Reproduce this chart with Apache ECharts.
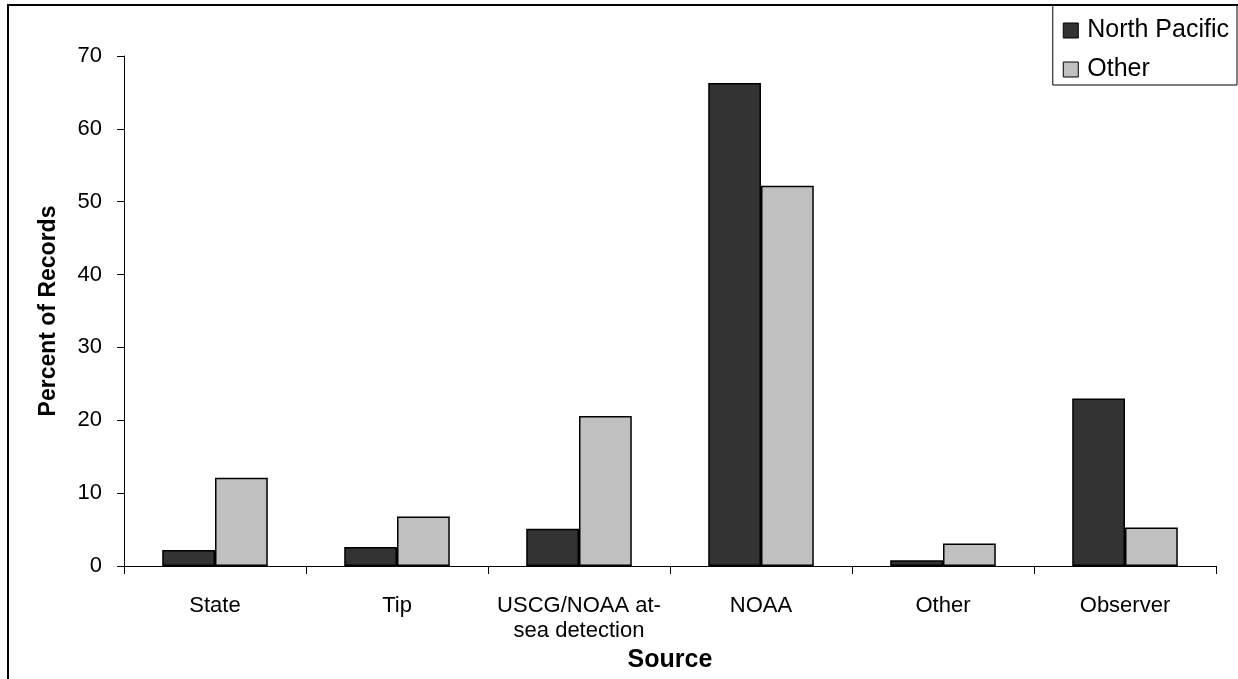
<!DOCTYPE html>
<html><head><meta charset="utf-8">
<script src="https://cdn.jsdelivr.net/npm/echarts@6/dist/echarts.min.js"></script>
<style>html,body{margin:0;padding:0;background:#fff}#c{width:1238px;height:679px}</style>
</head><body><div id="c"></div>
<script>
const categories = ['State', 'Tip', 'USCG/NOAA at-\nsea detection', 'NOAA', 'Other', 'Observer'];
const northPacific = [2.2, 2.6, 5.1, 66.3, 0.8, 23.0];
const other = [12.1, 6.8, 20.6, 52.2, 3.1, 5.3];
const yTicks = [0, 10, 20, 30, 40, 50, 60, 70];

const FONT = '"Liberation Sans", Arial, sans-serif';
const chart = echarts.init(document.getElementById('c'), null, {renderer: 'canvas'});
chart.setOption({
  animation: false,
  textStyle: {fontFamily: FONT, color: '#000'},
  graphic: [
    {type: 'polyline', shape: {points: [[8, 679], [8, 5], [1238, 5]]}, style: {fill: 'none', stroke: '#000', lineWidth: 2}, silent: true, z: 10}
  ],
  legend: {
    orient: 'vertical', right: 1, top: 5,
    borderColor: '#000', borderWidth: 1, borderRadius: 0,
    padding: [13, 8, 3, 10],
    itemWidth: 15, itemHeight: 15, itemGap: 14,
    icon: 'rect',
    textStyle: {fontFamily: FONT, fontSize: 25, lineHeight: 24, color: '#000', padding: [0, 0, 0, 4]},
    data: [
      {name: 'North Pacific', itemStyle: {color: '#333333', borderColor: '#000', borderWidth: 1}},
      {name: 'Other', itemStyle: {color: '#c0c0c0', borderColor: '#000', borderWidth: 1}}
    ]
  },
  grid: {left: 124, right: 22, top: 56, bottom: 113, containLabel: false, outerBoundsMode: 'none'},
  xAxis: {
    type: 'category', data: categories,
    name: 'Source', nameLocation: 'middle', nameGap: 72,
    nameTextStyle: {fontFamily: FONT, fontSize: 25, fontWeight: 'bold', color: '#000'},
    axisLine: {lineStyle: {color: '#000', width: 1}},
    axisTick: {show: true, length: 8, lineStyle: {color: '#000'}},
    axisLabel: {fontFamily: FONT, fontSize: 22, color: '#000', margin: 27, lineHeight: 25, interval: 0}
  },
  yAxis: {
    type: 'value', min: 0, max: 70, interval: 10,
    name: 'Percent of Records', nameLocation: 'middle', nameGap: 64, nameRotate: 90,
    nameTextStyle: {fontFamily: FONT, fontSize: 23, fontWeight: 'bold', color: '#000'},
    axisLine: {show: true, lineStyle: {color: '#000', width: 1}},
    axisTick: {show: true, length: 7, lineStyle: {color: '#000'}},
    axisLabel: {fontFamily: FONT, fontSize: 22, color: '#000', margin: 22,
      formatter: v => yTicks.includes(v) ? String(v) : ''},
    splitLine: {show: false}
  },
  series: [
    {name: 'North Pacific', type: 'bar', data: northPacific, barGap: '0%', barCategoryGap: '42%',
      itemStyle: {color: '#333333', borderColor: '#000', borderWidth: 1.5}},
    {name: 'Other', type: 'bar', data: other, barGap: '0%', barCategoryGap: '42%',
      itemStyle: {color: '#c0c0c0', borderColor: '#000', borderWidth: 1.5}}
  ]
});
</script></body></html>
